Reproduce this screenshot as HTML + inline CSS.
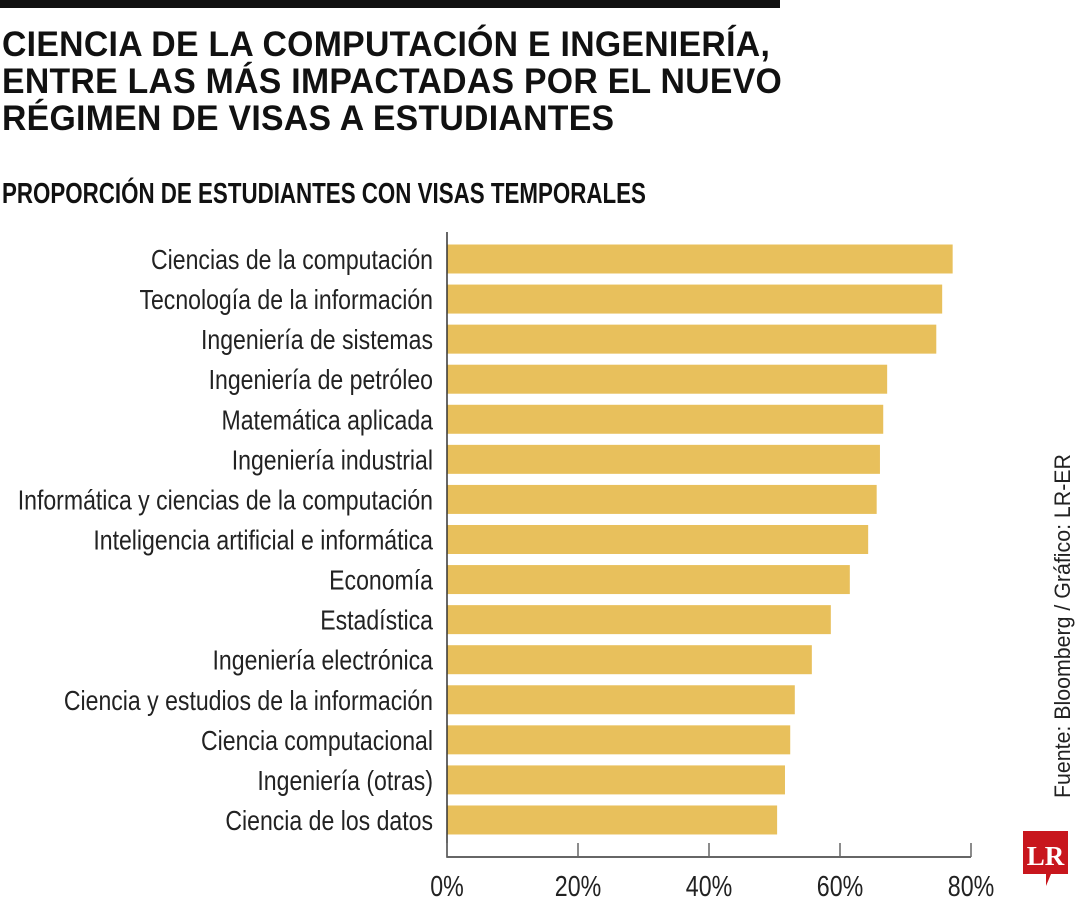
<!DOCTYPE html>
<html><head><meta charset="utf-8"><style>
body{margin:0;background:#fff;width:1080px;height:900px;overflow:hidden;position:relative;font-family:"Liberation Sans",sans-serif;color:#111}
#topbar{position:absolute;left:0;top:0;width:780px;height:8px;background:#111}
#title{position:absolute;left:2px;top:26px;font-weight:bold;font-size:35px;line-height:37px;letter-spacing:0.3px;transform-origin:0 0;transform:scale(0.965,1);white-space:nowrap}
#subtitle{position:absolute;left:2px;top:178px;font-weight:bold;font-size:29px;transform-origin:0 0;transform:scale(0.77,1);white-space:nowrap}
#source{position:absolute;left:1050px;top:798px;transform-origin:0 0;transform:rotate(-90deg) scale(0.97,1);font-size:22px;white-space:nowrap;color:#222}
</style></head><body>
<div id="topbar"></div>
<div id="title">CIENCIA DE LA COMPUTACIÓN E INGENIERÍA,<br>ENTRE LAS MÁS IMPACTADAS POR EL NUEVO<br>RÉGIMEN DE VISAS A ESTUDIANTES</div>
<div id="subtitle">PROPORCIÓN DE ESTUDIANTES CON VISAS TEMPORALES</div>
<div id="source">Fuente: Bloomberg / Gráfico: LR-ER</div>
<svg id="chart" width="1080" height="900" style="position:absolute;left:0;top:0"></svg>
<svg width="1080" height="900" style="position:absolute;left:0;top:0;pointer-events:none">
<g>
<path d="M1023 831 H1068 V874 H1051 L1046 886 V874 H1023 Z" fill="#c8161d"/>
<text x="1045.5" y="865" text-anchor="middle" font-family="Liberation Serif,serif" font-weight="bold" font-size="27" fill="#fff">LR</text>
</g></svg>
<script>
const categories=["Ciencias de la computación","Tecnología de la información","Ingeniería de sistemas","Ingeniería de petróleo","Matemática aplicada","Ingeniería industrial","Informática y ciencias de la computación","Inteligencia artificial e informática","Economía","Estadística","Ingeniería electrónica","Ciencia y estudios de la información","Ciencia computacional","Ingeniería (otras)","Ciencia de los datos"];
const values=[77.2,75.6,74.7,67.2,66.6,66.1,65.6,64.3,61.5,58.6,55.7,53.1,52.4,51.6,50.4];
const ticks=[0,20,40,60,80];
const tickLabels=["0%","20%","40%","60%","80%"];
const svg=document.getElementById('chart');
const NS='http://www.w3.org/2000/svg';
const x0=447,pxPer=131/20;
const xs=v=>x0+v*pxPer;
const ys=i=>259+i*40.07;
function mk(t,a){const e=document.createElementNS(NS,t);for(const k in a)e.setAttribute(k,a[k]);svg.appendChild(e);return e;}
categories.forEach((c,i)=>{
  const r=mk('rect',{x:x0,y:ys(i)-14.5,width:xs(values[i])-x0,height:29,fill:'#e8c05c'});
  
  
  const t=mk('text',{x:0,y:0,transform:`translate(433,${ys(i)+10}) scale(0.824,1)`,'text-anchor':'end','font-size':28,fill:'#222','font-family':'"Liberation Sans",sans-serif'});
  t.textContent=c;
  
  
});
const ax=mk('path',{d:`M${x0} 232 V857 H${xs(80)}`,stroke:'#333','stroke-width':1.5,fill:'none'});


ticks.forEach((v,i)=>{
  const l=mk('line',{x1:xs(v),x2:xs(v),y1:843,y2:857,stroke:'#666','stroke-width':1.5});
  
  
  const t=mk('text',{x:0,y:0,transform:`translate(${xs(v)},896) scale(0.8,1)`,'text-anchor':'middle','font-size':29,fill:'#222','font-family':'"Liberation Sans",sans-serif'});
  t.textContent=tickLabels[i];
  
  
});
</script>
</body></html>
